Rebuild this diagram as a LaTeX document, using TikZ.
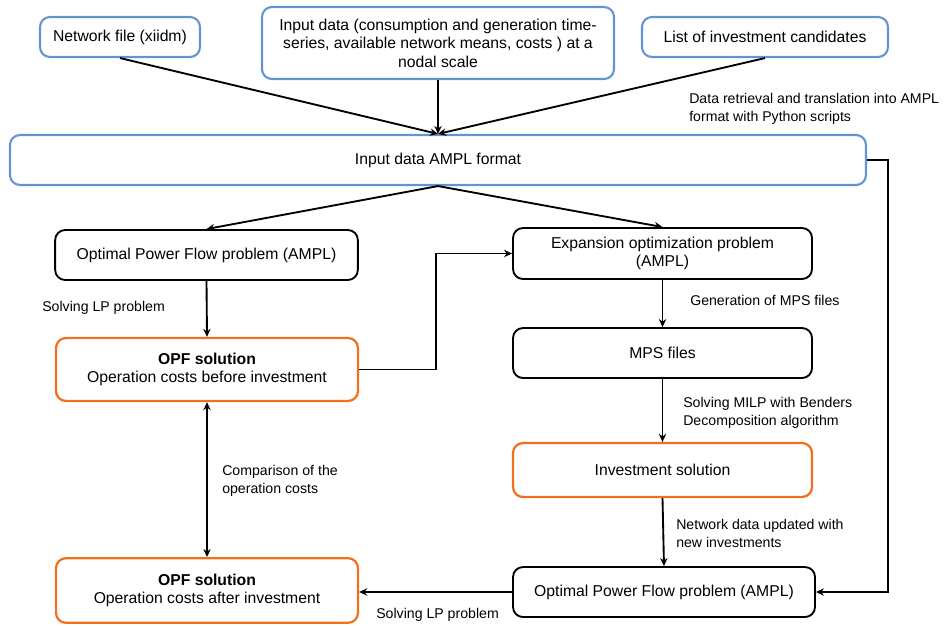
\documentclass[tikz,border=0pt]{standalone}
\usepackage{fontspec}
\setmainfont{Liberation Sans}
\usetikzlibrary{arrows.meta}
\definecolor{boxblue}{RGB}{98,148,210}
\definecolor{boxorange}{RGB}{240,112,30}
\tikzset{
  basebox/.style={rounded corners=7.5pt, align=center, inner sep=2pt,
    font=\fontsize{11.8}{13.9}\selectfont},
  bluebox/.style={basebox, draw=boxblue, line width=1.6pt},
  blackbox/.style={basebox, draw=black, line width=1.4pt},
  orangebox/.style={basebox, draw=boxorange, line width=1.7pt},
  arr/.style={draw=black, line width=1.4pt, -{Stealth[length=6pt,width=5.5pt]}},
  darr/.style={draw=black, line width=1.4pt, {Stealth[length=6pt,width=5.5pt]}-{Stealth[length=6pt,width=5.5pt]}},
  lbl/.style={anchor=west, align=left, inner sep=0pt,
    font=\fontsize{10.6}{13.5}\selectfont}
}
\begin{document}
\begin{tikzpicture}[x=0.75pt,y=-0.75pt]
\useasboundingbox (0,0) rectangle (946,625);
% top input boxes
\node[bluebox, minimum width=120pt, minimum height=30pt] (net) at (120,37) {Network file (xiidm)};
\node[bluebox, minimum width=264pt, minimum height=54pt] (inp) at (438,43)
  {Input data (consumption and generation time-\\series, available network means, costs ) at a\\nodal scale};
\node[bluebox, minimum width=184.5pt, minimum height=30pt] (list) at (765,37) {List of investment candidates};
\node[bluebox, minimum width=642pt, minimum height=37.5pt] (ampl) at (438,160) {Input data AMPL format};
% left column
\node[blackbox, minimum width=227pt, minimum height=37.5pt] (opf1) at (206.5,255) {Optimal Power Flow problem (AMPL)};
\node[orangebox, minimum width=226.5pt, minimum height=47.25pt] (sol1) at (207,369.5)
  {\textbf{OPF solution}\\Operation costs before investment};
\node[orangebox, minimum width=226.5pt, minimum height=48.5pt] (sol2) at (207,590.5)
  {\textbf{OPF solution}\\Operation costs after investment};
% right column
\node[blackbox, minimum width=224.25pt, minimum height=38.25pt] (exp) at (662.5,253.5)
  {Expansion optimization problem\\(AMPL)};
\node[blackbox, minimum width=224.25pt, minimum height=37.5pt] (mps) at (662.5,353) {MPS files};
\node[orangebox, minimum width=224.25pt, minimum height=40.5pt] (inv) at (662.5,470) {Investment solution};
\node[blackbox, minimum width=226.5pt, minimum height=37.5pt] (opf2) at (664,592) {Optimal Power Flow problem (AMPL)};
% helper coordinates
\coordinate (k1) at (436,300);
\coordinate (k2) at (888,400);
% connectors
\draw[arr] (net.south) -- (ampl.north);
\draw[arr] (inp.south) -- (ampl.north);
\draw[arr] (list.south) -- (ampl.north);
\draw[arr] (ampl.south) -- (opf1.north);
\draw[arr] (ampl.south) -- (exp.north);
\draw[arr] (opf1.south) -- (sol1.north);
\draw[arr] (sol1.east) -| (k1) |- (exp.west);
\draw[arr] (exp.south) -- (mps.north);
\draw[arr] (mps.south) -- (inv.north);
\draw[arr] (inv.south) -- (opf2.north);
\draw[arr] (ampl.east) -| (k2) |- (opf2.east);
\draw[arr] (opf2.west) -- (sol2.east |- opf2.west);
\draw[darr] (sol1.south) -- (sol2.north);
% labels
\node[lbl] (l1) at (689,109) {Data retrieval and translation into AMPL\\format with Python scripts};
\node[lbl] (l2) at (42,308) {Solving LP problem};
\node[lbl] (l3) at (690,300) {Generation of MPS files};
\node[lbl] (l4) at (683,413) {Solving MILP with Benders\\Decomposition algorithm};
\node[lbl] (l5) at (222,481) {Comparison of the\\operation costs};
\node[lbl] (l6) at (676,533) {Network data updated with\\new investments};
\node[lbl] (l7) at (376,615) {Solving LP problem};
\end{tikzpicture}
\end{document}
